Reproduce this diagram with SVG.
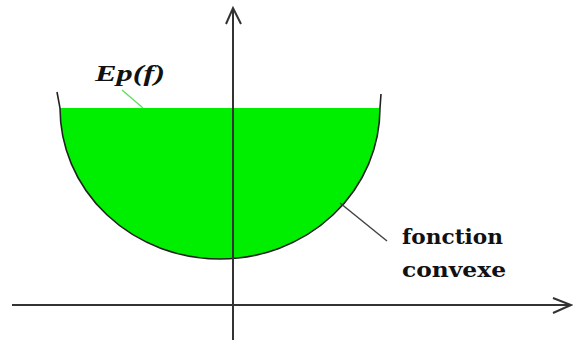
<svg xmlns="http://www.w3.org/2000/svg" width="573" height="340" viewBox="0 0 573 340">
<style>
.axis{stroke:#333;stroke-width:2;fill:none}
.curve{stroke:#222;stroke-width:1.6}
.lead{stroke:#444;stroke-width:1.5;fill:none}
.lbl{font-family:"DejaVu Serif","Liberation Serif",serif;font-weight:bold;font-size:21px;fill:#111}
.ep{font-family:"Liberation Serif",serif;font-weight:bold;font-style:italic;font-size:24px;fill:#111}
</style>
<rect width="573" height="340" fill="#fff"/>
<g id="region">
<path d="M60,108 A160,151 0 0 0 380,108 Z" fill="#00ee00"/>
<path class="curve" fill="none" d="M57,92 L60,108 A160,151 0 0 0 380,108 L381,94"/>
</g>
<g id="axes">
<line class="axis" x1="233" y1="8" x2="233" y2="340"/>
<polyline class="axis" points="226,24 233,8 241,24"/>
<line class="axis" x1="12" y1="305" x2="571" y2="305" stroke="#555"/>
<polyline class="axis" points="553,298 571,305 553,313"/>
</g>
<g id="connectors">
<line x1="122" y1="90" x2="143" y2="108" stroke="#66dd66" stroke-width="1.5"/>
<line class="lead" x1="340" y1="203" x2="387" y2="241"/>
</g>
<g id="label-ep">
<text class="ep" x="95" y="81" textLength="70" lengthAdjust="spacingAndGlyphs">Ep(f)</text>
</g>
<g id="label-fonction">
<text class="lbl" x="402" y="244" textLength="101" lengthAdjust="spacingAndGlyphs">fonction</text>
<text class="lbl" x="402" y="277" textLength="104" lengthAdjust="spacingAndGlyphs">convexe</text>
</g>
</svg>
